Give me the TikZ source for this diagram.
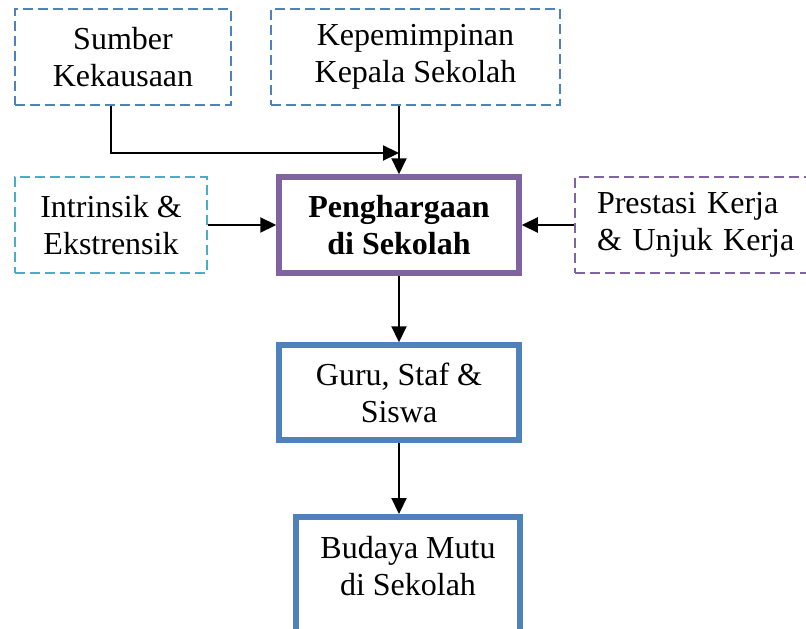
\documentclass[tikz,border=0pt]{standalone}
\usepackage{fontspec}
\setmainfont{Liberation Serif}
\usepackage{tikz}
\usetikzlibrary{arrows.meta, positioning, calc}

\definecolor{biru}{HTML}{4F81BD}
\definecolor{tosca}{HTML}{4BACC6}
\definecolor{ungu}{HTML}{8064A2}

\begin{document}
\begin{tikzpicture}[x=1pt, y=-1pt,
    kotak/.style={draw, line width=2.5pt, dash pattern=on 10pt off 5pt, align=center,
      inner sep=0pt, font=\fontsize{32}{37}\selectfont},
    tebal/.style={draw, line width=5.5pt, align=center, inner sep=0pt,
      font=\fontsize{32}{37}\selectfont},
    panah/.style={line width=2.2pt, -{Triangle[length=16pt, width=15pt]}}]
  \useasboundingbox (0,0) rectangle (806,629);

  % Faktor di atas
  \node[kotak, biru, text=black, minimum width=216pt, minimum height=96pt]
    (sumber) at (123,57) {Sumber\\Kekausaan};
  \node[kotak, biru, text=black, minimum width=289pt, minimum height=96pt]
    (kepala) at (415.5,57) {Kepemimpinan\\Kepala Sekolah};

  % Faktor di samping
  \node[kotak, tosca, text=black, minimum width=192pt, minimum height=96pt]
    (intrinsik) at (111,225) {Intrinsik \&\\Ekstrensik};
  \node[kotak, ungu, text=black, align=left, text width=200pt, inner xsep=22pt,
    minimum height=96pt] (prestasi) at (697,225) {Prestasi Kerja\\\& Unjuk Kerja};

  % Penghargaan (pusat)
  \node[tebal, ungu, text=black, minimum width=240pt, minimum height=96pt,
    font=\fontsize{32}{37}\selectfont\bfseries] (harga) at (399,225)
    {Penghargaan\\di Sekolah};

  % Hasil
  \node[tebal, biru, text=black, minimum width=240pt, minimum height=95pt]
    (guru) at (399,392.5) {Guru, Staf \&\\Siswa};
  \node[tebal, biru, text=black, minimum width=224pt, anchor=north,
    inner ysep=20pt, text depth=90pt] (budaya) at (408,514)
    {Budaya Mutu\\di Sekolah};

  % Panah
  \coordinate (temu) at (399,153);
  \draw[panah] ([xshift=-12pt]sumber.south) |- (temu);
  \draw[panah] (kepala.south -| harga.north) -- (harga.north);
  \draw[panah] (intrinsik.east) -- (harga.west);
  \draw[panah] (prestasi.west) -- (harga.east);
  \draw[panah] (harga.south) -- (guru.north);
  \draw[panah] (guru.south) -- (guru.south |- budaya.north);
\end{tikzpicture}
\end{document}
